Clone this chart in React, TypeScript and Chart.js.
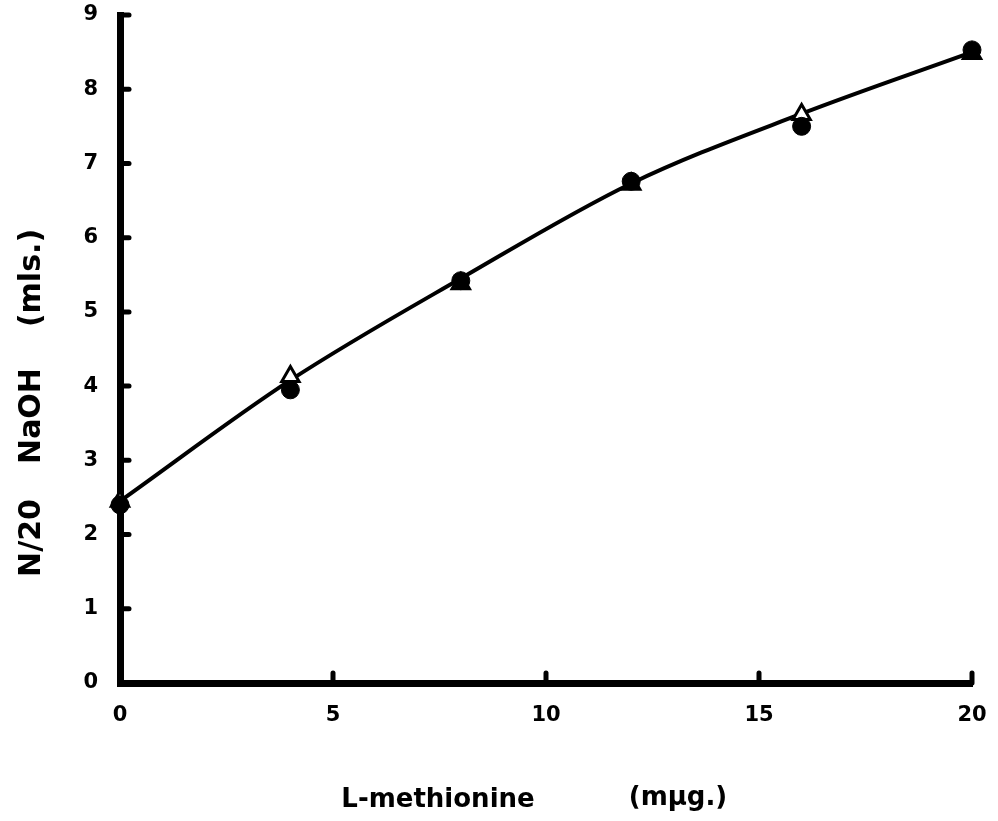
import React, { useEffect, useRef } from "react";
import { Chart, registerables } from "chart.js";

Chart.register(...registerables);

// Amount of L-methionine (mμg.) and titrated N/20 NaOH (mls.)
const doses = [0, 4, 8, 12, 16, 20];
const circleValues = [2.4, 3.95, 5.42, 6.76, 7.5, 8.53];
const triangleValues = [2.45, 4.13, 5.38, 6.72, 7.66, 8.48];
const curveValues = [2.45, 4.08, 5.45, 6.73, 7.67, 8.5];
const xTicks = [0, 5, 10, 15, 20];
const yTicks = [0, 1, 2, 3, 4, 5, 6, 7, 8, 9];
const xTitleParts = ["L-methionine", "(mμg.)"];
const yTitleParts = ["N/20", "NaOH", "(mls.)"];

const FONT = "'DejaVu Sans', 'Liberation Sans', sans-serif";

const toPoints = (ys: number[]) => doses.map((x, i) => ({ x, y: ys[i] }));

// Short inward tick marks along both axes plus the axis titles.
const axisDecor = {
  id: "axisDecor",
  afterDraw(chart: any) {
    const { ctx, chartArea, scales } = chart;
    ctx.save();
    ctx.strokeStyle = "#000";
    ctx.lineWidth = 5;
    ctx.lineCap = "round";
    yTicks.slice(1).forEach((v) => {
      const py = scales.y.getPixelForValue(v);
      ctx.beginPath();
      ctx.moveTo(chartArea.left, py);
      ctx.lineTo(chartArea.left + 9, py);
      ctx.stroke();
    });
    xTicks.slice(1).forEach((v) => {
      const px = scales.x.getPixelForValue(v);
      ctx.beginPath();
      ctx.moveTo(px, chartArea.bottom);
      ctx.lineTo(px, chartArea.bottom - 10);
      ctx.stroke();
    });
    ctx.fillStyle = "#000";
    ctx.textAlign = "center";
    ctx.textBaseline = "middle";
    ctx.font = `bold 26px ${FONT}`;
    ctx.fillText(xTitleParts[0], 438, 800);
    ctx.fillText(xTitleParts[1], 678, 798);
    ctx.translate(32, 0);
    ctx.rotate(-Math.PI / 2);
    ctx.font = `bold 30px ${FONT}`;
    ctx.fillText(yTitleParts[0], -538, 0);
    ctx.fillText(yTitleParts[1], -416, 0);
    ctx.fillText(yTitleParts[2], -278, 0);
    ctx.restore();
  },
};

export default function App() {
  const canvasRef = useRef<HTMLCanvasElement>(null);

  useEffect(() => {
    const canvas = canvasRef.current;
    if (!canvas) return;
    const chart = new Chart(canvas, {
      type: "scatter",
      data: {
        datasets: [
          {
            type: "line",
            label: "fit",
            data: toPoints(curveValues),
            borderColor: "#000",
            borderWidth: 4,
            pointRadius: 0,
            fill: false,
            cubicInterpolationMode: "monotone",
            clip: false,
            order: 3,
          } as any,
          {
            label: "circles",
            data: toPoints(circleValues),
            pointStyle: "circle",
            pointRadius: 9,
            backgroundColor: "#000",
            borderColor: "#000",
            borderWidth: 1,
            clip: false,
            order: 1,
          },
          {
            label: "triangles",
            data: toPoints(triangleValues),
            pointStyle: "triangle",
            pointRadius: 10,
            backgroundColor: "#fff",
            borderColor: "#000",
            borderWidth: 3,
            clip: false,
            order: 2,
          },
        ],
      },
      options: {
        animation: false,
        responsive: false,
        layout: { padding: { left: 0, top: 15, right: 26, bottom: 0 } },
        plugins: {
          legend: { display: false },
          tooltip: { enabled: false },
        },
        scales: {
          x: {
            type: "linear",
            min: 0,
            max: 20,
            afterBuildTicks: (s: any) => {
              s.ticks = xTicks.map((v) => ({ value: v }));
            },
            afterFit: (s: any) => {
              s.height = 138;
              s.paddingLeft = 0;
              s.paddingRight = 0;
            },
            grid: { display: false },
            border: { display: true, width: 7, color: "#000" },
            ticks: {
              color: "#000",
              padding: 12,
              font: { family: FONT, size: 21, weight: "bold" },
            },
          },
          y: {
            type: "linear",
            min: 0,
            max: 9,
            afterBuildTicks: (s: any) => {
              s.ticks = yTicks.map((v) => ({ value: v }));
            },
            afterFit: (s: any) => {
              s.width = 120;
              s.paddingTop = 0;
              s.paddingBottom = 0;
            },
            grid: { display: false },
            border: { display: true, width: 7, color: "#000" },
            ticks: {
              color: "#000",
              padding: 14,
              font: { family: FONT, size: 21, weight: "bold" },
            },
          },
        },
      },
      plugins: [axisDecor],
    });
    return () => chart.destroy();
  }, []);

  return (
    <div style={{ position: "absolute", left: 0, top: 0, width: 998, height: 821, background: "#fff" }}>
      <canvas ref={canvasRef} width={998} height={821} style={{ display: "block" }} />
    </div>
  );
}
